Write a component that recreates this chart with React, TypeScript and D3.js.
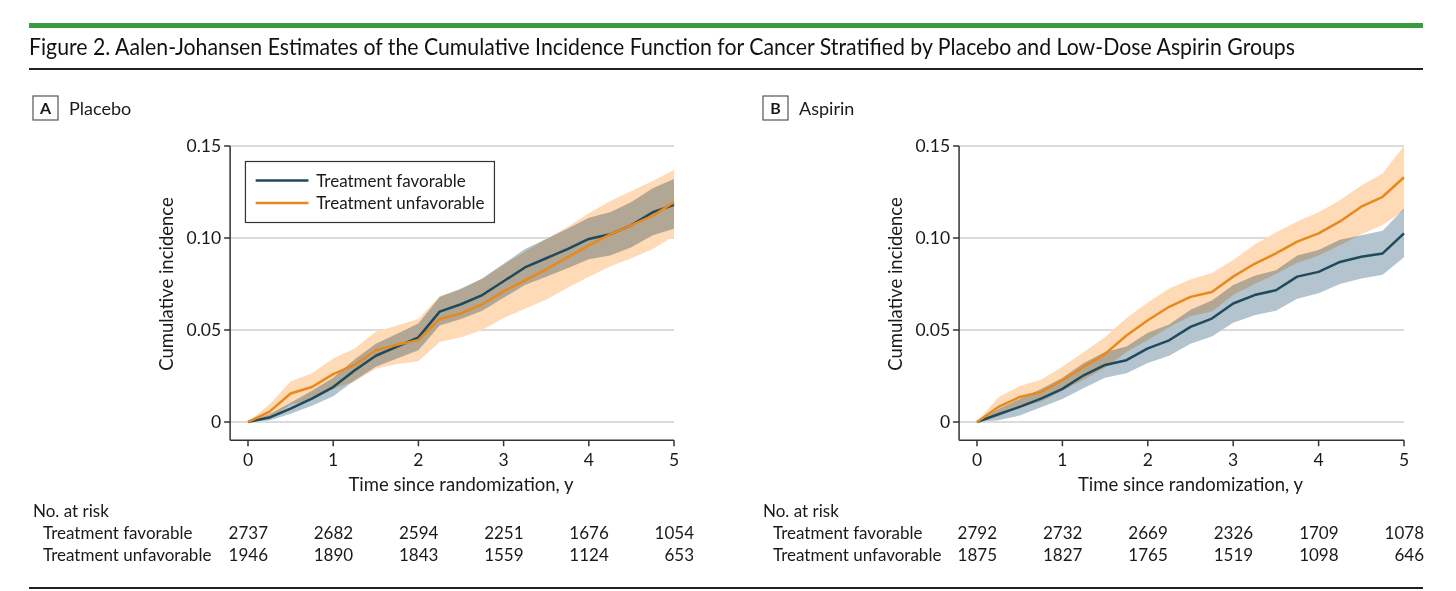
import React from "react";
import * as d3 from "d3";

// ---------- data ----------
const times = [0, 0.25, 0.5, 0.75, 1, 1.25, 1.5, 1.75, 2, 2.25, 2.5, 2.75, 3, 3.25, 3.5, 3.75, 4, 4.25, 4.5, 4.75, 5];

// Panel A – Placebo
const placeboFav = [0, 0.0024, 0.0073, 0.0127, 0.019, 0.028, 0.036, 0.041, 0.046, 0.06, 0.064, 0.069, 0.0765, 0.084, 0.089, 0.094, 0.0995, 0.102, 0.107, 0.114, 0.118];
const placeboFavLo = [0, 0.0008, 0.0045, 0.0088, 0.014, 0.0225, 0.03, 0.0345, 0.039, 0.0525, 0.056, 0.0605, 0.0675, 0.0745, 0.079, 0.0835, 0.0885, 0.0905, 0.095, 0.1015, 0.105];
const placeboFavHi = [0, 0.0042, 0.0105, 0.017, 0.024, 0.034, 0.0425, 0.048, 0.0535, 0.068, 0.0725, 0.078, 0.086, 0.094, 0.0995, 0.105, 0.111, 0.114, 0.1195, 0.127, 0.132];
const placeboUnfav = [0, 0.0055, 0.0155, 0.019, 0.026, 0.031, 0.039, 0.042, 0.0445, 0.056, 0.059, 0.064, 0.071, 0.077, 0.083, 0.0895, 0.096, 0.102, 0.107, 0.112, 0.1195];
const placeboUnfavLo = [0, 0.0015, 0.0095, 0.012, 0.018, 0.022, 0.029, 0.0315, 0.033, 0.0435, 0.046, 0.05, 0.0565, 0.0615, 0.0665, 0.073, 0.079, 0.0845, 0.089, 0.094, 0.101];
const placeboUnfavHi = [0, 0.0095, 0.022, 0.0265, 0.0345, 0.04, 0.049, 0.0525, 0.056, 0.0685, 0.072, 0.078, 0.0855, 0.0925, 0.0995, 0.106, 0.1135, 0.12, 0.1255, 0.131, 0.137];

// Panel B – Aspirin
const aspirinFav = [0, 0.0042, 0.0082, 0.0127, 0.018, 0.0254, 0.031, 0.0336, 0.04, 0.0444, 0.0517, 0.0562, 0.0644, 0.069, 0.0716, 0.079, 0.0816, 0.087, 0.0898, 0.0916, 0.1025];
const aspirinFavLo = [0, 0.001, 0.0035, 0.008, 0.0125, 0.0185, 0.024, 0.0265, 0.032, 0.036, 0.0425, 0.0465, 0.054, 0.058, 0.0605, 0.067, 0.07, 0.075, 0.078, 0.08, 0.0895];
const aspirinFavHi = [0, 0.007, 0.0125, 0.018, 0.024, 0.032, 0.038, 0.041, 0.0485, 0.053, 0.061, 0.066, 0.0745, 0.0795, 0.0825, 0.0905, 0.0935, 0.099, 0.1015, 0.104, 0.116];
const aspirinUnfav = [0, 0.0082, 0.0136, 0.0163, 0.0227, 0.03, 0.037, 0.047, 0.0553, 0.0626, 0.068, 0.0707, 0.079, 0.086, 0.0916, 0.098, 0.1025, 0.109, 0.117, 0.1224, 0.133];
const aspirinUnfavLo = [0, 0.003, 0.008, 0.011, 0.017, 0.023, 0.0295, 0.038, 0.0445, 0.0515, 0.0575, 0.06, 0.069, 0.075, 0.0805, 0.0865, 0.0905, 0.096, 0.102, 0.107, 0.115];
const aspirinUnfavHi = [0, 0.0135, 0.0195, 0.023, 0.03, 0.038, 0.046, 0.0565, 0.065, 0.0725, 0.0775, 0.081, 0.088, 0.0965, 0.103, 0.109, 0.114, 0.1205, 0.1285, 0.135, 0.15];

// Number at risk
const riskTimes = [0, 1, 2, 3, 4, 5];
const placeboRiskFav = [2737, 2682, 2594, 2251, 1676, 1054];
const placeboRiskUnfav = [1946, 1890, 1843, 1559, 1124, 653];
const aspirinRiskFav = [2792, 2732, 2669, 2326, 1709, 1078];
const aspirinRiskUnfav = [1875, 1827, 1765, 1519, 1098, 646];

const yTicks = [0, 0.05, 0.1, 0.15];
const yTickLabels = ["0", "0.05", "0.10", "0.15"];
const xTicks = [0, 1, 2, 3, 4, 5];
const seriesNames = ["Treatment favorable", "Treatment unfavorable"];

const TITLE = "Figure 2. Aalen-Johansen Estimates of the Cumulative Incidence Function for Cancer Stratified by Placebo and Low-Dose Aspirin Groups";

// ---------- style ----------
const FONT = "Lato, 'Open Sans', sans-serif";
const DARK = "#1f4a5c";
const ORANGE = "#e8891d";
const DARK_BAND = "#b3c4cf";
const ORANGE_BAND = "#fedab6";
const TXT = "#1a1a1a";

type PanelProps = {
  left: number;
  x0: number;
  x5: number;
  letter: string;
  name: string;
  fav: number[]; favLo: number[]; favHi: number[];
  unfav: number[]; unfavLo: number[]; unfavHi: number[];
  riskFav: number[]; riskUnfav: number[];
  legend: boolean;
};

function Panel(p: PanelProps) {
  const x = d3.scaleLinear().domain([0, 5]).range([p.x0, p.x5]);
  const y = d3.scaleLinear().domain([0, 0.15]).range([422, 146]);
  const axisX = x(-0.21);
  const axisY = y(-0.0099);

  const band = (lo: number[], hi: number[]) =>
    d3.area<number>().x((_, i) => x(times[i])).y0((_, i) => y(lo[i])).y1((_, i) => y(hi[i]))(times) || "";
  const line = (v: number[]) =>
    d3.line<number>().x((_, i) => x(times[i])).y((_, i) => y(v[i]))(times) || "";

  const midX = (x(0) + x(5)) / 2;
  const yTitleX = axisX - 63;

  return (
    <g fontFamily={FONT} fill={TXT}>
      {/* panel label */}
      <rect x={p.left} y={96} width={25} height={24} fill="#fff" stroke="#555" strokeWidth={1.2} />
      <text x={p.left + 12.5} y={114} textAnchor="middle" fontSize={16} fontWeight={700}>{p.letter}</text>
      <text x={p.left + 36} y={114.5} fontSize={18}>{p.name}</text>

      {/* grid */}
      {yTicks.map((t) => (
        <line key={"g" + t} x1={axisX} x2={x(5)} y1={y(t)} y2={y(t)} stroke="#cfcfcf" strokeWidth={1.5} />
      ))}

      {/* bands */}
      <g style={{ isolation: "isolate" }}>
        <path d={band(p.unfavLo, p.unfavHi)} fill={ORANGE_BAND} style={{ mixBlendMode: "multiply" }} />
        <path d={band(p.favLo, p.favHi)} fill={DARK_BAND} style={{ mixBlendMode: "multiply" }} />
      </g>

      {/* lines */}
      <path d={line(p.fav)} fill="none" stroke={DARK} strokeWidth={2.5} strokeLinejoin="round" />
      <path d={line(p.unfav)} fill="none" stroke={ORANGE} strokeWidth={2.5} strokeLinejoin="round" />

      {/* axes */}
      <line x1={axisX} x2={axisX} y1={y(0.15)} y2={axisY} stroke="#333" strokeWidth={1.5} />
      <line x1={axisX} x2={x(5)} y1={axisY} y2={axisY} stroke="#333" strokeWidth={1.5} />
      {yTicks.map((t, i) => (
        <g key={"yt" + t}>
          <line x1={axisX - 6} x2={axisX} y1={y(t)} y2={y(t)} stroke="#333" strokeWidth={1.5} />
          <text x={axisX - 9} y={y(t) + 6} textAnchor="end" fontSize={17.5}>{yTickLabels[i]}</text>
        </g>
      ))}
      {xTicks.map((t) => (
        <g key={"xt" + t}>
          <line x1={x(t)} x2={x(t)} y1={axisY} y2={axisY + 6} stroke="#333" strokeWidth={1.5} />
          <text x={x(t)} y={axisY + 26} textAnchor="middle" fontSize={17.5}>{t}</text>
        </g>
      ))}
      <text x={midX} y={491} textAnchor="middle" fontSize={18.5}>Time since randomization, y</text>
      <text transform={`translate(${yTitleX},${y(0.075)}) rotate(-90)`} textAnchor="middle" dy={6} fontSize={18.5}>Cumulative incidence</text>

      {/* legend */}
      {p.legend && (
        <g>
          <rect x={x(-0.03)} y={161.5} width={249} height={61} fill="#fff" stroke="#333" strokeWidth={1.2} />
          <line x1={x(0.09)} x2={x(0.71)} y1={180.5} y2={180.5} stroke={DARK} strokeWidth={2.5} />
          <line x1={x(0.09)} x2={x(0.71)} y1={203} y2={203} stroke={ORANGE} strokeWidth={2.5} />
          <text x={x(0.8)} y={186.5} fontSize={17}>{seriesNames[0]}</text>
          <text x={x(0.8)} y={209} fontSize={17}>{seriesNames[1]}</text>
        </g>
      )}

      {/* risk table */}
      <text x={p.left} y={517} fontSize={17}>No. at risk</text>
      <text x={p.left + 10} y={539} fontSize={17}>{seriesNames[0]}</text>
      <text x={p.left + 10} y={561} fontSize={17}>{seriesNames[1]}</text>
      {riskTimes.map((t, i) => (
        <g key={"r" + t}>
          <text x={x(t) + 20} y={539} textAnchor="end" fontSize={17}>{p.riskFav[i]}</text>
          <text x={x(t) + 20} y={561} textAnchor="end" fontSize={17}>{p.riskUnfav[i]}</text>
        </g>
      ))}
    </g>
  );
}

export default function App() {
  return (
    <svg width={1456} height={591} style={{ position: "absolute", left: 0, top: 0, background: "#fff" }}>
      <rect x={0} y={0} width={1456} height={591} fill="#fff" />
      <rect x={29} y={23} width={1394} height={5} fill="#3a9b40" />
      <text x={29} y={55} fontFamily={FONT} fontSize={22.5} fill="#111" textLength={1266} lengthAdjust="spacingAndGlyphs">{TITLE}</text>
      <rect x={29} y={68} width={1394} height={2} fill="#222" />

      <Panel left={33} x0={248} x5={674} letter="A" name="Placebo"
        fav={placeboFav} favLo={placeboFavLo} favHi={placeboFavHi}
        unfav={placeboUnfav} unfavLo={placeboUnfavLo} unfavHi={placeboUnfavHi}
        riskFav={placeboRiskFav} riskUnfav={placeboRiskUnfav} legend={true} />
      <Panel left={763} x0={977} x5={1404} letter="B" name="Aspirin"
        fav={aspirinFav} favLo={aspirinFavLo} favHi={aspirinFavHi}
        unfav={aspirinUnfav} unfavLo={aspirinUnfavLo} unfavHi={aspirinUnfavHi}
        riskFav={aspirinRiskFav} riskUnfav={aspirinRiskUnfav} legend={false} />

      <rect x={29} y={587} width={1394} height={2} fill="#222" />
    </svg>
  );
}
